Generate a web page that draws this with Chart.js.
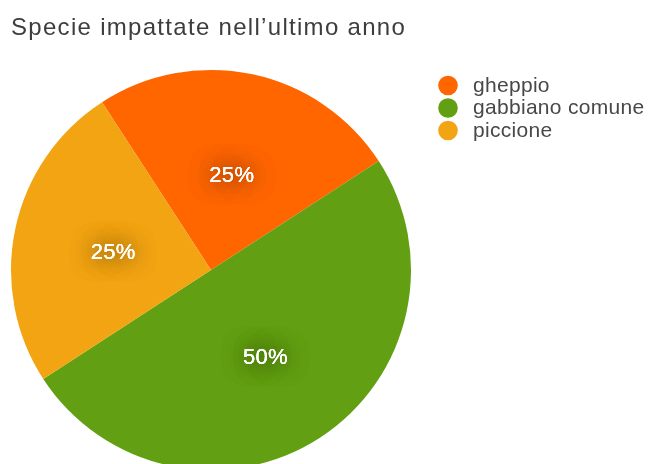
<!DOCTYPE html>
<html>
<head>
<meta charset="utf-8">
<script src="https://cdn.jsdelivr.net/npm/chart.js@4/dist/chart.umd.min.js"></script>
<style>
  html, body { margin: 0; padding: 0; background: #ffffff; width: 649px; height: 464px; overflow: hidden; }
  #wrap { position: relative; width: 649px; height: 480px; }
</style>
</head>
<body>
<div id="wrap"><canvas id="c" width="649" height="480"></canvas></div>
<script>
const chartTitle = "Specie impattate nell\u2019ultimo anno";
const categories = ["gheppio", "gabbiano comune", "piccione"];
const percentages = [25, 50, 25];
const sliceColors = ["#ff6600", "#629f12", "#f2a413"];

const FONT = "'Liberation Sans', Arial, Helvetica, sans-serif";

const spacingPlugin = {
  id: 'spacing',
  beforeDraw(chart) { chart.ctx.letterSpacing = '1.3px'; },
  beforeDatasetsDraw(chart) { chart.ctx.letterSpacing = '0px'; }
};

const labelPlugin = {
  id: 'pctLabels',
  afterDatasetsDraw(chart) {
    const ctx = chart.ctx;
    const meta = chart.getDatasetMeta(0);
    ctx.save();
    ctx.letterSpacing = '0.3px';
    ctx.font = "22px " + FONT;
    ctx.textAlign = 'center';
    ctx.textBaseline = 'middle';
    meta.data.forEach((arc, i) => {
      const p = arc.tooltipPosition();
      const y = p.y + 4;
      const txt = chart.data.datasets[0].data[i] + '%';
      ctx.shadowColor = 'rgba(0,0,0,0.5)';
      ctx.shadowBlur = 22;
      ctx.fillStyle = '#ffffff';
      ctx.fillText(txt, p.x, y);
      ctx.fillText(txt, p.x, y);
      ctx.shadowBlur = 0;
      ctx.shadowColor = 'transparent';
      ctx.fillText(txt, p.x, y);
    });
    ctx.restore();
  }
};

const legendPlugin = {
  id: 'sideLegend',
  afterDraw(chart) {
    const ctx = chart.ctx;
    ctx.save();
    ctx.letterSpacing = '0.3px';
    ctx.font = "21px " + FONT;
    ctx.textAlign = 'left';
    ctx.textBaseline = 'middle';
    const x0 = 448, y0 = 85.5, step = 22.5, r = 9.8;
    chart.data.labels.forEach((lab, i) => {
      const y = y0 + i * step;
      ctx.beginPath();
      ctx.arc(x0, y, r, 0, Math.PI * 2);
      ctx.fillStyle = chart.data.datasets[0].backgroundColor[i];
      ctx.fill();
      ctx.fillStyle = '#484848';
      ctx.fillText(lab, 473, y + 0.5);
    });
    ctx.restore();
  }
};

new Chart(document.getElementById('c'), {
  type: 'pie',
  data: {
    labels: categories,
    datasets: [{
      data: percentages,
      backgroundColor: sliceColors,
      borderWidth: 0
    }]
  },
  options: {
    responsive: false,
    animation: false,
    rotation: -33,
    layout: { padding: { left: 11, right: 238, top: 0, bottom: 10 } },
    plugins: {
      legend: { display: false },
      tooltip: { enabled: false },
      title: {
        display: true,
        text: chartTitle,
        align: 'start',
        color: '#3d3d3d',
        font: { family: FONT, size: 24, weight: 'normal', lineHeight: 1.2 },
        padding: { top: 14, bottom: 27.2 }
      }
    }
  },
  plugins: [spacingPlugin, labelPlugin, legendPlugin]
});
</script>
</body>
</html>
